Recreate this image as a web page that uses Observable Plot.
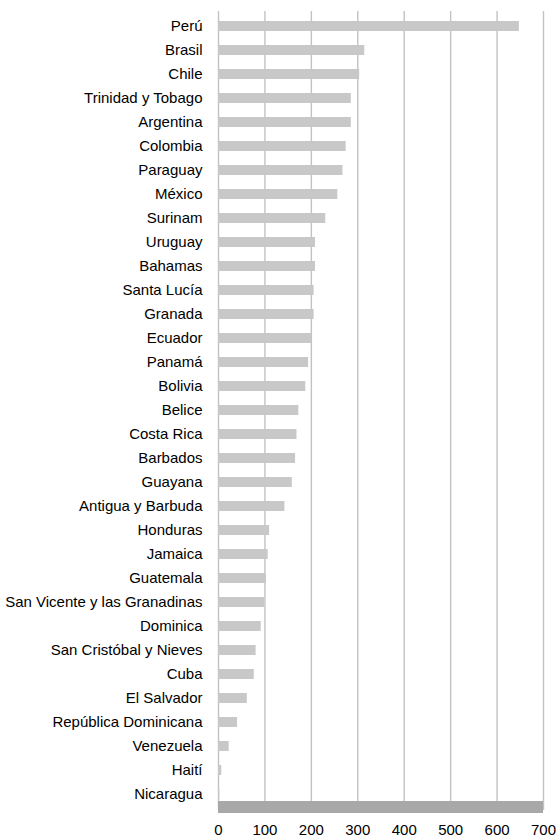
<!DOCTYPE html>
<html><head><meta charset="utf-8">
<script src="https://cdn.jsdelivr.net/npm/d3@7"></script>
<script src="https://cdn.jsdelivr.net/npm/@observablehq/plot@0.6"></script>
<style>
body{margin:0;background:#fff;}
</style>
</head><body>
<div id="chart"></div>
<script>
const countries = ["Perú","Brasil","Chile","Trinidad y Tobago","Argentina","Colombia","Paraguay","México","Surinam","Uruguay","Bahamas","Santa Lucía","Granada","Ecuador","Panamá","Bolivia","Belice","Costa Rica","Barbados","Guayana","Antigua y Barbuda","Honduras","Jamaica","Guatemala","San Vicente y las Granadinas","Dominica","San Cristóbal y Nieves","Cuba","El Salvador","República Dominicana","Venezuela","Haití","Nicaragua"];
const values = [648,315,304,286,286,275,268,257,231,209,209,206,206,201,194,188,173,169,166,159,143,110,107,103,99,92,81,77,62,41,23,7,3];
const xTicks = [0,100,200,300,400,500,600,700];

const data = countries.map((c,i)=>({country:c, value:values[i]}));

const chart = Plot.plot({
  width: 557, height: 840,
  marginLeft: 218, marginRight: 14, marginTop: 11, marginBottom: 30,
  style: {fontFamily: '"Liberation Sans",Arial,sans-serif', background: "#fff", color: "#000"},
  x: {domain: [0,700], axis: null},
  y: {domain: countries, paddingInner: 0.58, paddingOuter: 0.29, axis: null},
  marks: [
    Plot.ruleX(xTicks, {stroke: "#c2c2c2", strokeWidth: 1.4}),
    Plot.barX([countries[countries.length - 1]], {x1: xTicks[0], x2: xTicks[xTicks.length - 1], y: d => d, insetTop: 12, insetBottom: -14, fill: "#a8a8a8"}),
    Plot.barX(data, {x: "value", y: "country", fill: "#c8c8c8"}),
    Plot.axisY({tickSize: 0, tickPadding: 16, fontSize: 15, label: null, fill: "#000"}),
    Plot.axisX(xTicks, {tickSize: 0, tickPadding: 14, fontSize: 15, label: null, fill: "#000", tickFormat: d => String(d)})
  ]
});
document.getElementById("chart").appendChild(chart);
</script>
</body></html>
